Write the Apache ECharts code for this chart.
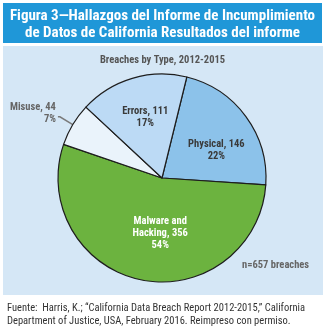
<!DOCTYPE html>
<html><head><meta charset="utf-8">
<script src="https://cdn.jsdelivr.net/npm/echarts@6/dist/echarts.min.js"></script>
<style>html,body{margin:0;padding:0;background:#fff}#c{width:325px;height:326px}</style>
</head><body><div id="c"></div>
<script>
const categories = ['Physical', 'Malware and\nHacking', 'Misuse', 'Errors'];
const values = [146, 356, 44, 111];
const titleLines = ['Figura 3\u2014Hallazgos del Informe de Incumplimiento', 'de Datos de California Resultados del informe'];
const subtitle = 'Breaches by Type, 2012-2015';
const note = 'n=657 breaches';
const sourceLines = ['Fuente:  Harris, K.; \u201cCalifornia Data Breach Report 2012-2015,\u201d California', 'Department of Justice, USA, February 2016. Reimpreso con permiso.'];

const colors = ['#8cc2ea', '#6cb33f', '#eaf3fb', '#bcdaf5'];
const labelStyles = [
  { color: '#3a3a3a', offset: [10, 5] },
  { color: '#ffffff', offset: [9, 1] },
  null,
  { color: '#3a3a3a', offset: [-1, -8] }
];
const FAM = 'Roboto, sans-serif';
const BC = 'bold condensed';

const data = categories.map((name, i) => {
  const item = { name, value: values[i], itemStyle: { color: colors[i] } };
  if (labelStyles[i]) {
    item.label = { position: 'inside', color: labelStyles[i].color, offset: labelStyles[i].offset };
    item.labelLine = { show: false };
  }
  return item;
});

const chart = echarts.init(document.getElementById('c'), null, { renderer: 'canvas' });
chart.setOption({
  animation: false,
  graphic: [
    { type: 'rect', shape: { x: 3, y: 3, width: 319, height: 40 }, style: { fill: '#1f97d8' }, z: -10, silent: true },
    { type: 'rect', shape: { x: 3, y: 46, width: 320, height: 249 }, style: { fill: '#d5e7f6' }, z: -10, silent: true }
  ],
  title: [
    { text: titleLines.join('\n'), left: 'center', top: 8, padding: 0, textStyle: { color: '#fff', fontFamily: FAM, fontWeight: BC, fontSize: 15, lineHeight: 17 } },
    { text: subtitle, left: 'center', top: 55, padding: 0, textStyle: { color: '#555', fontFamily: FAM, fontWeight: BC, fontSize: 10.5 } },
    { text: note, left: 242, top: 260, padding: 0, textStyle: { color: '#666', fontFamily: FAM, fontWeight: BC, fontSize: 10.5 } },
    { text: sourceLines.join('\n'), left: 7, top: 302, padding: 0, textStyle: { color: '#333', fontFamily: FAM, fontWeight: 'normal condensed', fontSize: 10.5, lineHeight: 13 } }
  ],
  series: [{
    type: 'pie',
    z: 5,
    center: [162, 178],
    radius: [0, 104],
    startAngle: 76.2,
    clockwise: true,
    percentPrecision: 0,
    avoidLabelOverlap: false,
    itemStyle: { borderColor: '#1e1e1e', borderWidth: 1.2 },
    label: {
      position: 'outside',
      color: '#666',
      distanceToLabelLine: 2,
      formatter: p => p.name + ', ' + p.value + '\n' + p.percent + '%',
      fontFamily: FAM, fontWeight: BC, fontSize: 10.5, lineHeight: 12
    },
    labelLine: { show: true, showAbove: true, length: 15, length2: 2, smooth: false, lineStyle: { color: '#7a7a7a', width: 1.5 } },
    labelLayout: p => (p.dataIndex === 2 ? { dy: -3 } : {}),
    emphasis: { disabled: true },
    data
  }]
});
</script></body></html>
